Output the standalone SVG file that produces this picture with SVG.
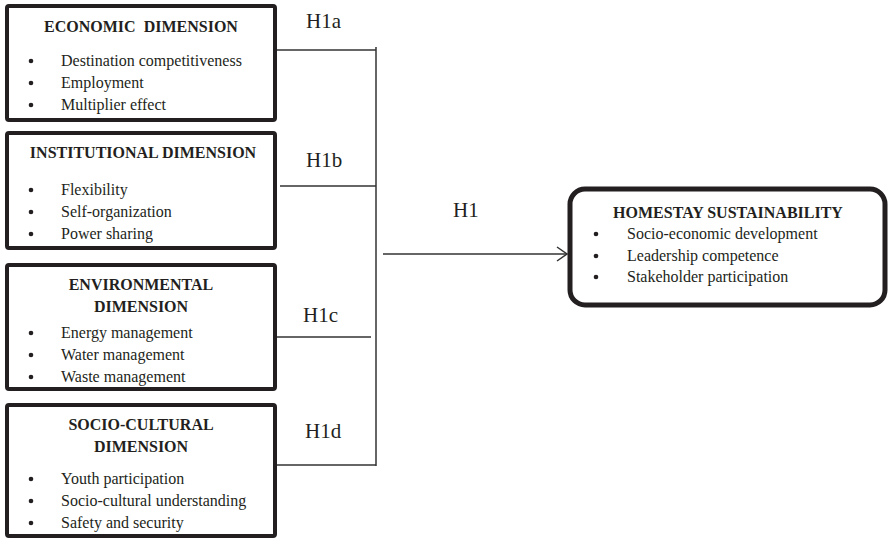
<svg xmlns="http://www.w3.org/2000/svg" width="888" height="538" viewBox="0 0 888 538">
<style>
text{font-family:"Liberation Serif","Times New Roman",serif;fill:#231f20;}
.t{font-size:16px;font-weight:bold;text-anchor:middle;}
.i{font-size:16px;}
.box{fill:#fff;stroke:#231f20;stroke-width:4;}
.hbox{fill:#fff;stroke:#231f20;stroke-width:5;}
.c{stroke:#333;stroke-width:1.5;fill:none;}
.d{fill:#231f20;}
</style>
<defs>
<marker id="arr" viewBox="0 0 12 16" refX="11" refY="8" markerWidth="12" markerHeight="16" markerUnits="userSpaceOnUse" orient="auto">
<path d="M1,1 L11,8 L1,15" fill="none" stroke="#333" stroke-width="1.5"/>
</marker>
</defs>
<g id="connectors">
<line class="c" x1="277" y1="50" x2="376" y2="50"/>
<line class="c" x1="280" y1="186" x2="376" y2="186"/>
<line class="c" x1="277" y1="337" x2="371" y2="337"/>
<line class="c" x1="277" y1="465" x2="376" y2="465"/>
<line class="c" x1="376" y1="47" x2="376" y2="466"/>
<line class="c" x1="383" y1="254" x2="567" y2="254" marker-end="url(#arr)"/>
<text class="h" style="font-size:21px" x="306" y="28">H1a</text>
<text class="h" style="font-size:21px" x="306" y="167">H1b</text>
<text class="h" style="font-size:21px" x="303" y="322">H1c</text>
<text class="h" style="font-size:21px" x="305" y="438">H1d</text>
<text class="h" style="font-size:21px" x="453" y="217">H1</text>
</g>
<g id="economic">
<rect class="box" x="7" y="6" width="268" height="114" rx="2"/>
<text class="t" x="141" y="32">ECONOMIC&#160; DIMENSION</text>
<circle class="d" cx="31" cy="61" r="2.3"/><text class="i" x="61" y="66">Destination competitiveness</text>
<circle class="d" cx="31" cy="83" r="2.3"/><text class="i" x="61" y="88">Employment</text>
<circle class="d" cx="31" cy="105" r="2.3"/><text class="i" x="61" y="110">Multiplier effect</text>
</g>
<g id="institutional">
<rect class="box" x="7" y="133" width="268" height="115" rx="2"/>
<text class="t" x="143" y="158">INSTITUTIONAL DIMENSION</text>
<circle class="d" cx="31" cy="190" r="2.3"/><text class="i" x="61" y="195">Flexibility</text>
<circle class="d" cx="31" cy="212" r="2.3"/><text class="i" x="61" y="217">Self-organization</text>
<circle class="d" cx="31" cy="234" r="2.3"/><text class="i" x="61" y="239">Power sharing</text>
</g>
<g id="environmental">
<rect class="box" x="7" y="265" width="268" height="124" rx="2"/>
<text class="t" x="141" y="290">ENVIRONMENTAL</text>
<text class="t" x="141" y="312">DIMENSION</text>
<circle class="d" cx="31" cy="333" r="2.3"/><text class="i" x="61" y="338">Energy management</text>
<circle class="d" cx="31" cy="355" r="2.3"/><text class="i" x="61" y="360">Water management</text>
<circle class="d" cx="31" cy="377" r="2.3"/><text class="i" x="61" y="382">Waste management</text>
</g>
<g id="sociocultural">
<rect class="box" x="7" y="405" width="268" height="131" rx="2"/>
<text class="t" x="141" y="430">SOCIO-CULTURAL</text>
<text class="t" x="141" y="452">DIMENSION</text>
<circle class="d" cx="31" cy="479" r="2.3"/><text class="i" x="61" y="484">Youth participation</text>
<circle class="d" cx="31" cy="501" r="2.3"/><text class="i" x="61" y="506">Socio-cultural understanding</text>
<circle class="d" cx="31" cy="523" r="2.3"/><text class="i" x="61" y="528">Safety and security</text>
</g>
<g id="homestay">
<rect class="hbox" x="570" y="189" width="315" height="116" rx="15"/>
<text class="t" x="728" y="218">HOMESTAY SUSTAINABILITY</text>
<circle class="d" cx="596" cy="234" r="2.3"/><text class="i" x="627" y="239">Socio-economic development</text>
<circle class="d" cx="596" cy="256" r="2.3"/><text class="i" x="627" y="261">Leadership competence</text>
<circle class="d" cx="596" cy="277" r="2.3"/><text class="i" x="627" y="282">Stakeholder participation</text>
</g>
</svg>
